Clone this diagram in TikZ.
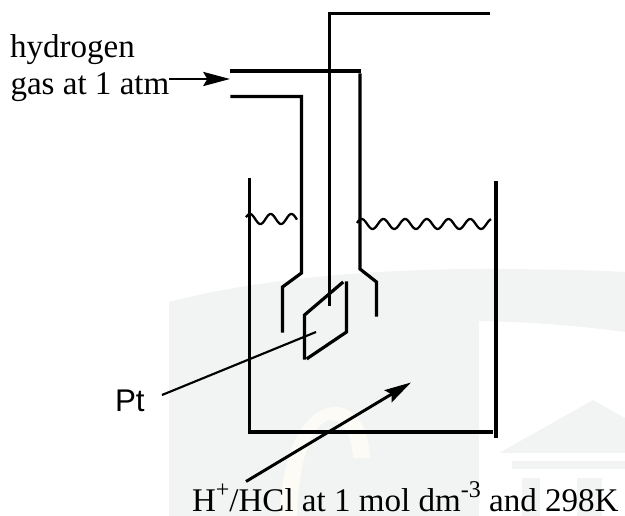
\documentclass[tikz,border=0pt]{standalone}
\usepackage{fontspec}
\setmainfont{Liberation Serif}
\setsansfont{Liberation Sans}
\usetikzlibrary{arrows.meta}
\definecolor{wmark}{HTML}{F2F4F4}
\definecolor{wcream}{HTML}{FCFBF6}
\newcommand{\upnote}[1]{\raisebox{10.5pt}{\fontsize{18pt}{20pt}\selectfont #1}}
\begin{document}
\begin{tikzpicture}[x=0.75pt,y=-0.75pt,
      every node/.style={inner sep=0pt,outer sep=0pt},
      glass/.style={line width=2.4pt,line cap=rect},
      wire/.style={line width=1.6pt},
      wave/.style={line width=1.7pt,smooth,samples=100},
      label/.style={font=\fontsize{24.8pt}{28pt}\selectfont,anchor=base west},
      feed/.style={line width=2.2pt,-{Stealth[length=20pt,width=10.5pt,inset=3pt]}}]
    \useasboundingbox (0,0) rectangle (625,516);
    % Faint background marks
    \fill[wmark] (169,302) .. controls (260,278) and (380,269) .. (480,269) .. controls (540,269) and (590,270) .. (625,272) -- (625,332) .. controls (580,326) and (530,322) .. (479,321) -- (479,516) -- (169,516) -- cycle;
    \fill[wcream] (280,516) .. controls (282,440) and (310,407) .. (335,407) .. controls (358,407) and (369,430) .. (370,458) -- (353,458) .. controls (352,435) and (342,418) .. (328,420) .. controls (305,430) and (298,480) .. (297,516) -- cycle;
    \fill[wmark] (499,453) -- (593,400) -- (625,418) -- (625,453) -- cycle;
    \fill[wmark] (512,461) rectangle (625,469);
    \fill[wmark] (522,478) rectangle (540,516);
    \fill[wmark] (577,478) rectangle (602,516);
    % Outlet wire and gas tube
    \draw[glass] (488,13.5) -- (329.5,13.5) -- (329.5,304);
    \draw[glass] (232,71) -- (359,71);
    \draw[glass] (232,96.5) -- (301.5,96.5) -- (301.5,273) -- (282.5,287) -- (282.5,331);
    \draw[glass] (360,75) -- (360,269) -- (376.5,282) -- (376.5,315);
    % Platinum plate
    \draw[glass] (342,283) -- (304.5,315) -- (304.5,358);
    \draw[glass] (346.5,283) -- (346.5,332) -- (308,358);
    % Beaker
    \draw[glass] (249.5,180) -- (249.5,432) -- (491,432);
    \draw[glass] (496,183) -- (496,436);
    % Liquid surface
    \draw[wave] plot[domain=246:297] (\x,{219-5*cos(17.39*(\x-250))});
    \draw[wave] plot[domain=357:491] (\x,{224-5*cos(16.59*(\x-361.7))});
    % Labels
    \node[label] (hyd) at (10,58) {hydrogen};
    \node[label] (gas) at (10.5,95) {gas at 1 atm};
    \node[label,font=\sffamily\fontsize{23.5pt}{28pt}\selectfont] (pt) at (115,412) {Pt};
    \node[label] (acid) at (192,512) {H\upnote{+}/HCl at 1 mol dm\upnote{-3} and 298K};
    % Pointers
    \coordinate (gasin) at (230,79);
    \coordinate (ptend) at (316,332);
    \coordinate (acidin) at (411,382.5);
    \draw[feed] (gas.east |- gasin) -- (gasin);
    \draw[wire] (162,395) -- (ptend);
    \draw[feed] (246,481.5) -- (acidin);
  \end{tikzpicture}
\end{document}
